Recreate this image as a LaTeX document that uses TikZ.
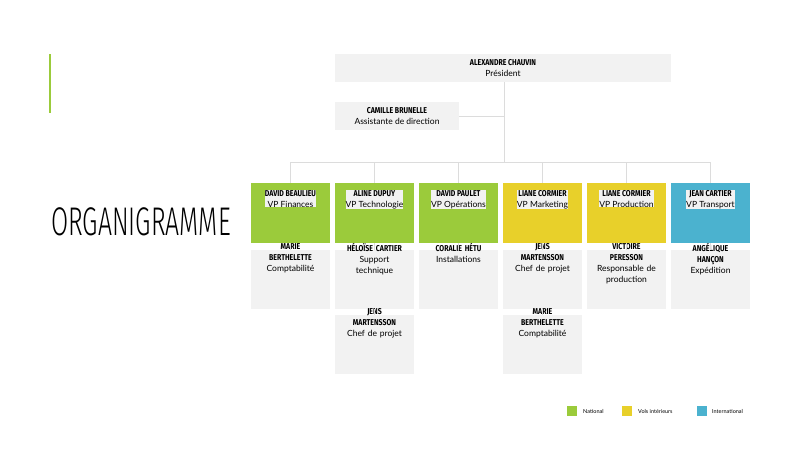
\documentclass[tikz,border=0pt]{standalone}
\usepackage{fontspec}
\setmainfont{Lato}
\newfontfamily\condb[FakeStretch=0.82]{Fira Sans}
\newfontfamily\titlef[FakeStretch=0.62]{Fira Sans Light}
\definecolor{gr}{HTML}{9BCB3B}
\definecolor{ye}{HTML}{E8D02A}
\definecolor{bl}{HTML}{4BB2CF}
\definecolor{bx}{HTML}{F2F2F2}
\definecolor{ln}{HTML}{DCDCDC}
\tikzset{
 box/.style={fill=bx,draw=none,inner sep=0pt,align=center,font=\fontsize{8.5}{11}\selectfont},
 con/.style={draw=ln,line width=1pt},
}
\newcommand{\nm}[1]{{\condb\bfseries #1}}
\begin{document}
\begin{tikzpicture}[x=1pt,y=-1pt]
\useasboundingbox (0,0) rectangle (796,450);
\fill[white] (0,0) rectangle (796,450);
\draw[gr,line width=1.5pt] (50,54) -- (50,113);
\node[anchor=west,inner sep=0pt,font=\fontsize{40}{40}\selectfont\titlef] (t) at (51,222) {ORGANIGRAMME};
% top
\node[box,minimum width=336pt,minimum height=28pt] (p) at (503,68) {\nm{ALEXANDRE CHAUVIN}\\Président};
\node[box,minimum width=124pt,minimum height=28pt] (a) at (397,116) {\nm{CAMILLE BRUNELLE}\\Assistante de direction};
\coordinate (j) at (504,162);
\draw[con] (p.south -| j) -- (j);
\draw[con] (a.east) -- (a.east -| j);
% vps
\foreach \i/\x/\c/\n/\r in {1/290.5/gr/DAVID BEAULIEU/VP Finances,2/374.5/gr/ALINE DUPUY/VP Technologie,3/458.5/gr/DAVID PAULET/VP Opérations,4/542.5/ye/LIANE CORMIER/VP Marketing,5/626.5/ye/LIANE CORMIER/VP Production,6/710.5/bl/JEAN CARTIER/VP Transport}{
 \node[box,fill=\c,minimum width=79pt,minimum height=60pt,anchor=north,text depth=0pt] (v\i) at (\x,183) {};
 \node[box,anchor=north] at (\x,190) {\nm{\n}\\\r};
}
\draw[con] (v1.north |- j) -- (v6.north |- j);
\foreach \i in {1,...,6}{\draw[con] (v\i.north |- j) -- (v\i.north);}
% subs
\tikzset{sub/.style={box,minimum width=79pt,minimum height=59pt,anchor=north,text width=72pt}}
\node[sub] (s1) at (v1.south |- 0,250) {};
\node[sub] (s2) at (v2.south |- 0,250) {};
\node[sub] (s3) at (v3.south |- 0,250) {};
\node[sub] (s4) at (v4.south |- 0,250) {};
\node[sub] (s5) at (v5.south |- 0,250) {};
\node[sub] (s6) at (v6.south |- 0,250) {};
\node[sub] (s7) at (v2.south |- 0,315) {};
\node[sub] (s8) at (v4.south |- 0,315) {};
\tikzset{st/.style={box,fill=none,anchor=north,text width=76pt}}
\node[st] at ([yshift=7pt]s1.north) {\nm{MARIE\\BERTHELETTE}\\Comptabilité};
\node[st] at ([yshift=7pt]s2.north) {\nm{HÉLOÏSE CARTIER}\\Support\\technique};
\node[st] at ([yshift=7pt]s3.north) {\nm{CORALIE HÉTU}\\Installations};
\node[st] at ([yshift=7pt]s4.north) {\nm{JENS\\MARTENSSON}\\Chef de projet};
\node[st] at ([yshift=7pt]s5.north) {\nm{VICTOIRE\\PERESSON}\\Responsable de\\production};
\node[st] at ([yshift=7pt]s6.north) {\nm{ANGÉLIQUE\\HANÇON}\\Expédition};
\node[st] at ([yshift=7pt]s7.north) {\nm{JENS\\MARTENSSON}\\Chef de projet};
\node[st] at ([yshift=7pt]s8.north) {\nm{MARIE\\BERTHELETTE}\\Comptabilité};
\foreach \a/\b in {v1/s1,v2/s2,v3/s3,v4/s4,v5/s5,v6/s6,s2/s7,s4/s8}{\draw[con] (\a.south) -- (\b.north);}
% legend
\tikzset{lg/.style={minimum size=10pt,inner sep=0pt},lt/.style={anchor=west,inner sep=0pt,font=\fontsize{5.5}{6}\selectfont}}
\node[lg,fill=gr] (l1) at (572,411) {};
\node[lt] at (583,411) {National};
\node[lg,fill=ye] (l2) at (627,411) {};
\node[lt] at (638,411) {Vols intérieurs};
\node[lg,fill=bl] (l3) at (702,411) {};
\node[lt] at (712,411) {International};
\end{tikzpicture}
\end{document}
